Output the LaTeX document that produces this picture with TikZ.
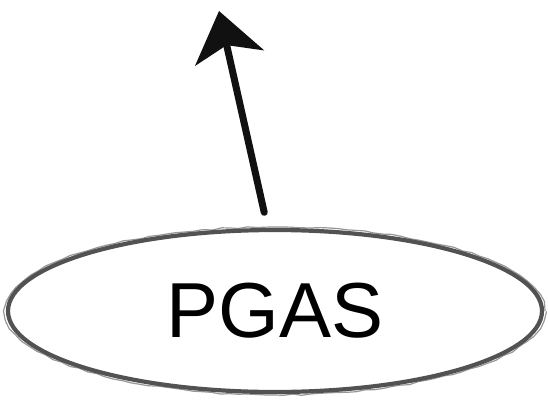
\documentclass[tikz,border=0pt]{standalone}
\usepackage{fontspec}
\setmainfont{Liberation Sans}
\usetikzlibrary{arrows.meta,positioning,shapes.geometric,decorations.pathmorphing}
\definecolor{mInk}{HTML}{111111}
\definecolor{mPencil}{HTML}{525252}
\tikzset{
  sketch/.style ={ellipse,draw=mPencil,line width=4.2pt,inner sep=0pt,minimum width=534pt,minimum height=162pt,
                  font=\fontsize{78}{82}\selectfont},
  brush/.style  ={-{Stealth[length=48pt,width=70pt,inset=13pt]},line width=7pt,mInk,line cap=round},
}
\begin{document}
\begin{tikzpicture}[x=1pt,y=1pt]
  \useasboundingbox (0,0) rectangle (548,405);
  \node[sketch] (pgas) at (275,94) {PGAS};
  \draw[mPencil,line width=1.2pt,opacity=0.6,decorate,decoration={random steps,segment length=9pt,amplitude=0.8pt}]
        (pgas.center) ellipse [x radius=270pt,y radius=84pt];
  \coordinate (tip) at (219,394);

  \draw[brush,shorten <=16pt] (pgas.95) -- (tip);
\end{tikzpicture}
\end{document}
